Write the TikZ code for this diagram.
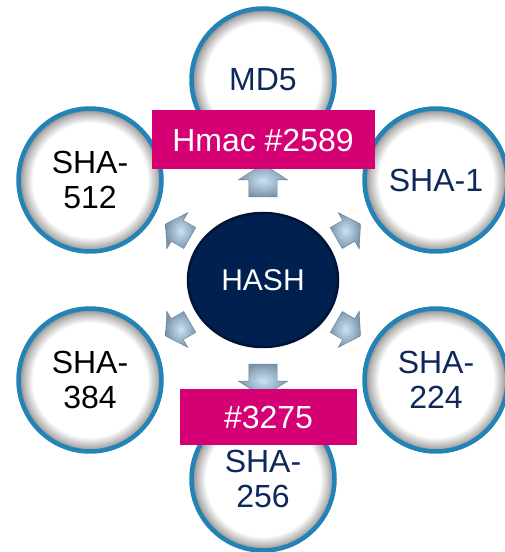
\documentclass[tikz,border=0pt]{standalone}
\usepackage{fontspec}
\setmainfont{Liberation Sans}
\usetikzlibrary{shapes.geometric,shapes.arrows}

\definecolor{ringblue}{RGB}{35,130,182}
\definecolor{navytext}{RGB}{14,40,90}
\definecolor{hashfill}{RGB}{0,32,80}
\definecolor{hashline}{RGB}{0,20,55}
\definecolor{hmacpink}{RGB}{212,0,116}
\definecolor{arrowlight}{RGB}{200,228,246}
\definecolor{arrowdark}{RGB}{125,148,168}

\pgfdeclareradialshading{ringfill}{\pgfpoint{0bp}{0bp}}{color(0bp)=(white); color(20bp)=(white); color(23.5bp)=(black!30); color(25bp)=(black!50); color(50bp)=(black!50)}

\tikzset{
  ring/.style={circle,draw=ringblue,line width=4.5pt,shading=ringfill,
    minimum size=143pt,inner sep=0pt,align=center,
    font=\fontsize{32}{35}\selectfont,text=navytext},
  blockarrow/.style={single arrow,single arrow head extend=10.5pt,
    single arrow tip angle=114,minimum height=33pt,
    inner xsep=0pt,inner ysep=14pt,
    draw=arrowdark!85!black,line width=0.4pt,
    inner color=arrowlight,outer color=arrowdark},
  pinkbox/.style={fill=hmacpink,text=white,inner sep=0pt,
    font=\fontsize{32}{35}\selectfont}
}

\begin{document}
\begin{tikzpicture}[x=1pt,y=1pt]
      \useasboundingbox (0,0) rectangle (505,552);

      \node[ellipse,fill=hashfill,draw=hashline,line width=2.5pt,
        minimum width=150pt,minimum height=134pt,text=white,
        font=\fontsize{30}{34}\selectfont] (hash) at (263,272) {HASH};

      \node[ring,above of=hash,node distance=200pt] (md5) {MD5};
      \node[ring,left of=hash,node distance=173pt,yshift=100pt,text=black] (sha512) {SHA-\\512};
      \node[ring,right of=hash,node distance=173pt,yshift=100pt] (sha1) {SHA-1};
      \node[ring,left of=hash,node distance=173pt,yshift=-100pt,text=black] (sha384) {SHA-\\384};
      \node[ring,right of=hash,node distance=173pt,yshift=-100pt] (sha224) {SHA-\\224};
      \node[ring,below of=hash,node distance=199pt] (sha256) {SHA-\\256};

      \node[blockarrow,above of=hash,node distance=95pt,rotate=90] (tomd5) {};
      \node[blockarrow,below of=hash,node distance=96pt,rotate=-90] (tosha256) {};
      \node[blockarrow,left of=hash,node distance=82pt,yshift=47pt,rotate=150,scale=0.85] (tosha512) {};
      \node[blockarrow,right of=hash,node distance=82pt,yshift=47pt,rotate=30,scale=0.85] (tosha1) {};
      \node[blockarrow,left of=hash,node distance=82pt,yshift=-47pt,rotate=210,scale=0.85] (tosha384) {};
      \node[blockarrow,right of=hash,node distance=82pt,yshift=-47pt,rotate=-30,scale=0.85] (tosha224) {};

      \node[pinkbox,minimum width=223pt,minimum height=59pt,above of=hash,node distance=140pt] (hmac) {Hmac \#2589};
      \node[pinkbox,minimum width=177pt,minimum height=56pt,below of=hash,node distance=137pt,xshift=5.5pt] (cert) {\#3275};
    \end{tikzpicture}
\end{document}
